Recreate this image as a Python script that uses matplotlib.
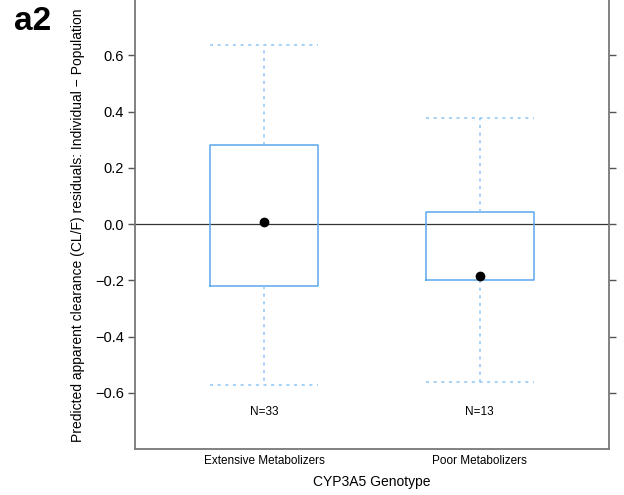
import matplotlib
matplotlib.use("Agg")
import matplotlib.pyplot as plt

plt.rcParams['font.family'] = ['Liberation Sans', 'DejaVu Sans']

# residual summaries per genotype group
groups = ['Extensive Metabolizers', 'Poor Metabolizers']
counts = [33, 13]
q1 = [-0.22, -0.20]
q3 = [0.28, 0.043]
whis_lo = [-0.572, -0.561]
whis_hi = [0.636, 0.377]
means = [0.008, -0.185]

stats = []
for i in range(len(groups)):
    stats.append(dict(label=groups[i], q1=q1[i], q3=q3[i], med=means[i],
                      whislo=whis_lo[i], whishi=whis_hi[i], mean=means[i], fliers=[]))

fig = plt.figure(figsize=(6.24, 4.95), dpi=100)
ax = fig.add_axes([135 / 624, 46 / 495, 474 / 624, 450 / 495])

box_col = '#5aa8ee'
whisk_col = '#8ec6f6'
ax.bxp(stats, positions=[1, 2], widths=0.5, showmeans=True, showfliers=False,
       boxprops=dict(color=box_col, linewidth=1.1),
       whiskerprops=dict(color=whisk_col, linestyle=(0, (2, 3)), linewidth=1.1),
       capprops=dict(color=whisk_col, linestyle=(0, (2, 3)), linewidth=1.1),
       capwidths=0.5,
       medianprops=dict(linewidth=0),
       meanprops=dict(marker='o', markerfacecolor='black', markeredgecolor='black',
                      markersize=6))

ax.axhline(0, color='#333333', linewidth=0.9, zorder=0)

for i, n in enumerate(counts):
    ax.text(i + 1, -0.67, 'N=%d' % n, ha='center', va='center', fontsize=8.5)

ax.set_xlim(0.4, 2.6)
ax.set_ylim(-0.8, 0.8)
ax.set_yticks([-0.6, -0.4, -0.2, 0.0, 0.2, 0.4, 0.6])
ax.set_yticklabels(['\u22120.6', '\u22120.4', '\u22120.2', '0.0', '0.2', '0.4', '0.6'])
ax.tick_params(axis='y', direction='out', length=5, width=1, color='#555555',
               labelsize=10.5, right=True, pad=3)
ax.tick_params(axis='x', length=0, labelsize=8.5, pad=4)
for s in ax.spines.values():
    s.set_color('#777777')
    s.set_linewidth(1.3)

ax.set_xlabel('CYP3A5 Genotype', fontsize=10, labelpad=6)
ax.set_ylabel('Predicted apparent clearance (CL/F) residuals: Individual \u2212 Population',
              fontsize=10, va='center')
ax.yaxis.set_label_coords(-0.12, 0.497)

fig.text(14 / 624, 1 - 22 / 495, 'a2', fontsize=24, fontweight='bold', va='center', ha='left')

fig.savefig('out.png', dpi=100)
